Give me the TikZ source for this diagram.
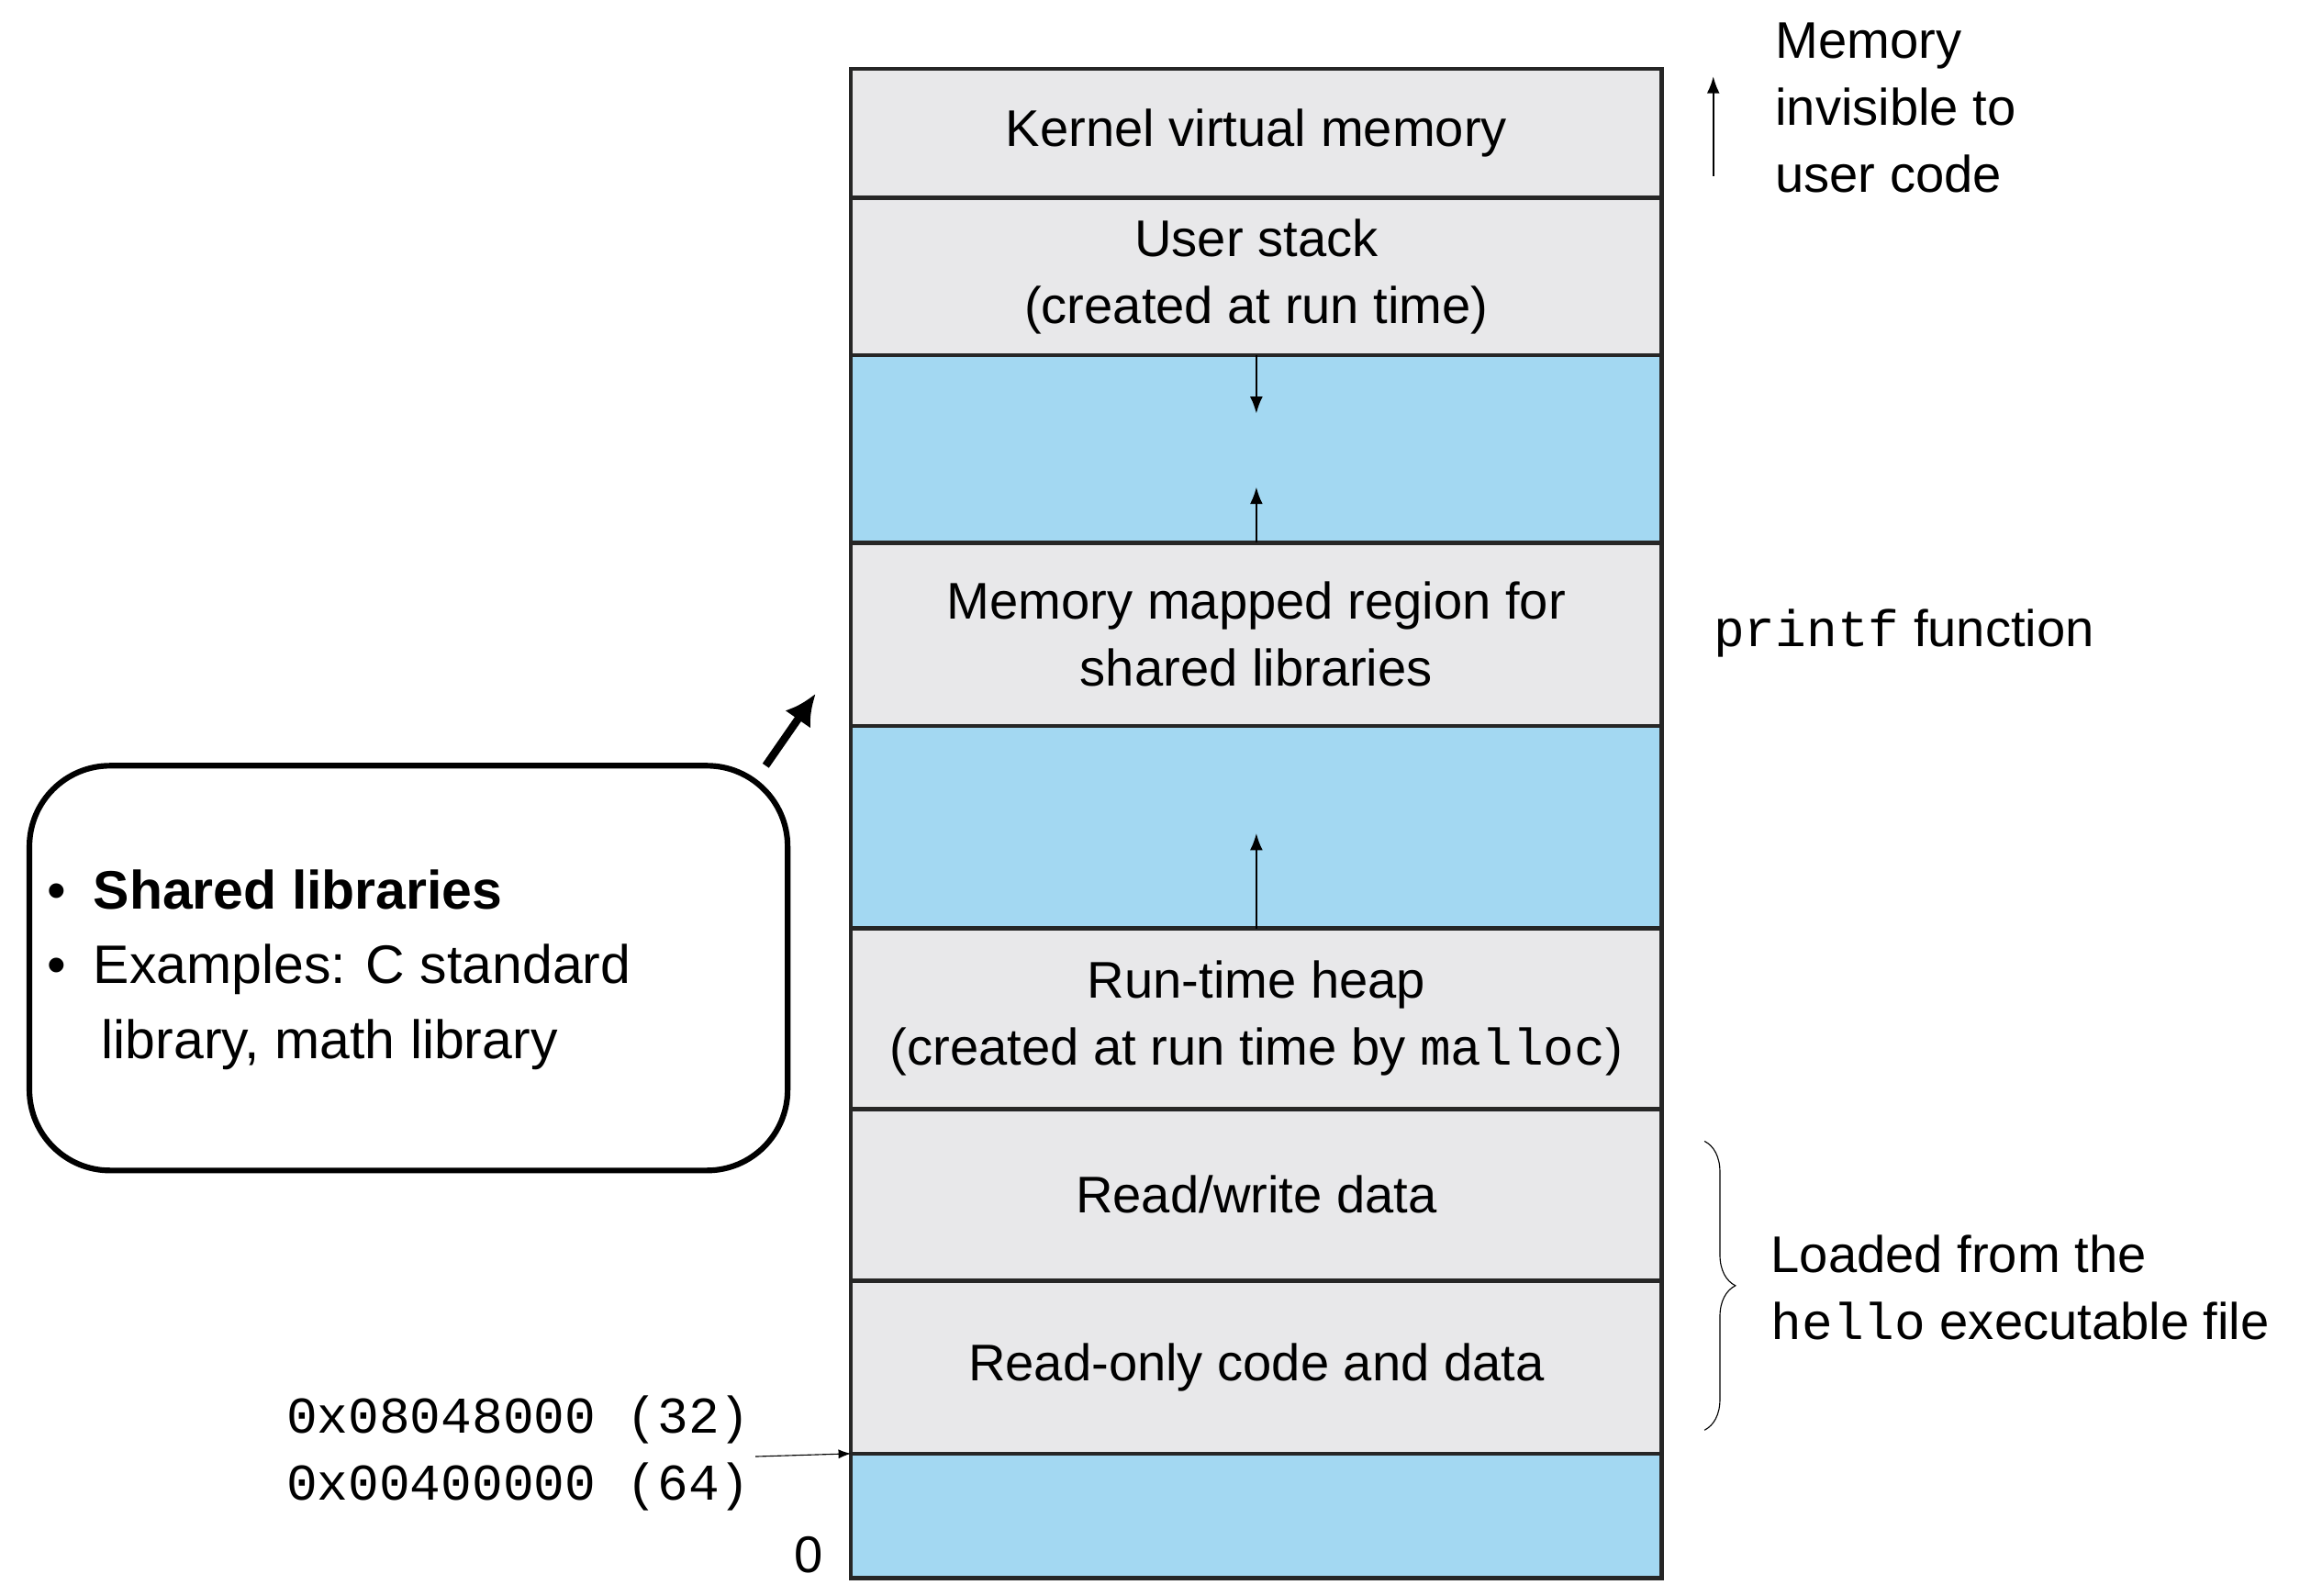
\documentclass[tikz,border=0pt]{standalone}
\usepackage{fontspec}
\setmainfont{Liberation Sans}
\setmonofont{Liberation Mono}
\usetikzlibrary{decorations.pathreplacing,arrows.meta}
\definecolor{seggray}{HTML}{E8E8EA}
\definecolor{segblue}{HTML}{A3D8F2}
\tikzset{
  seg/.style={draw=black!85, line width=1.6pt, minimum width=11.06cm,
    inner sep=0pt, outer sep=0pt, align=center, font=\fontsize{20}{26}\selectfont},
  lbl/.style={inner sep=0pt, align=left, font=\fontsize{20}{26}\selectfont},
}
\begin{document}
\begin{tikzpicture}[x=0.02cm, y=-0.02cm]
    \useasboundingbox (0,0) rectangle (1568,1088);
    % memory layout
    \node[seg, fill=seggray, minimum height=1.76cm] (kernel) at (856.5,91) {Kernel virtual memory};
    \node[seg, fill=seggray, minimum height=2.14cm] (stack) at (856.5,188.5) {User stack\\(created at run time)};
    \node[seg, fill=segblue, minimum height=2.56cm] (gapa) at (856.5,306) {};
    \node[seg, fill=seggray, minimum height=2.5cm] (mmap) at (856.5,432.5) {Memory mapped region for\\shared libraries};
    \node[seg, fill=segblue, minimum height=2.76cm] (gapb) at (856.5,564) {};
    \node[seg, fill=seggray, minimum height=2.46cm] (heap) at (856.5,694.5) {Run-time heap\\(created at run time by \texttt{malloc})};
    \node[seg, fill=seggray, minimum height=2.34cm] (rw) at (856.5,814.5) {Read/write data};
    \node[seg, fill=seggray, minimum height=2.36cm] (ro) at (856.5,932) {Read-only code and data};
    \node[seg, fill=segblue, minimum height=1.7cm] (low) at (856.5,1033.5) {};

    % growth arrows
    \draw[-{Latex}, thick] (gapa.north) -- ++(0,40);
    \draw[-{Latex}, thick] (gapa.south) -- ++(0,-38);
    \draw[-{Latex}, thick] (gapb.south) -- ++(0,-65);

    % right side labels
    \coordinate (kbot) at (1168,120);
    \draw[-{Latex}, thick] (kbot) -- ++(0,-68);
    \node[lbl, anchor=north west] (invis) at (1210,15) {Memory\\invisible to\\user code};
    \node[lbl, anchor=west] (printf) at (1168,432) {\texttt{printf} function};
    \coordinate (btop) at (1162,778);
    \coordinate (bbot) at (1162,975);
    \draw[decorate, decoration={brace, amplitude=12pt}] (btop) -- (bbot);
    \node[lbl, anchor=west] (loaded) at (1207,878) {Loaded from the\\\texttt{hello} executable file};

    % start addresses
    \node[lbl, anchor=east, font=\fontsize{20}{26}\ttfamily] (addr) at (512,991) {0x08048000 (32)\\0x00400000 (64)};
    \draw[-{Latex}] (addr.east) ++(3,2) -- (low.north west);
    \node[lbl, anchor=center] (zero) at (551,1060) {0};

    % callout
    \node[draw, line width=2.2pt, rounded corners=1.1cm, minimum width=10.34cm,
      minimum height=5.52cm, inner sep=0pt] (note) at (278.5,660) {};
    \node[lbl, anchor=west, font=\fontsize{21}{29}\selectfont] (notetxt) at (32,661)
      {\textbullet\hspace{0.5em}\textbf{Shared libraries}\\
       \textbullet\hspace{0.5em}Examples: C standard\\
       \hspace{1.0em}library, math library};
    \coordinate (tip) at (556,473);
    \draw[-{Latex[length=12pt,width=12pt]}, line width=3pt] (522,522) -- (tip);
\end{tikzpicture}
\end{document}
